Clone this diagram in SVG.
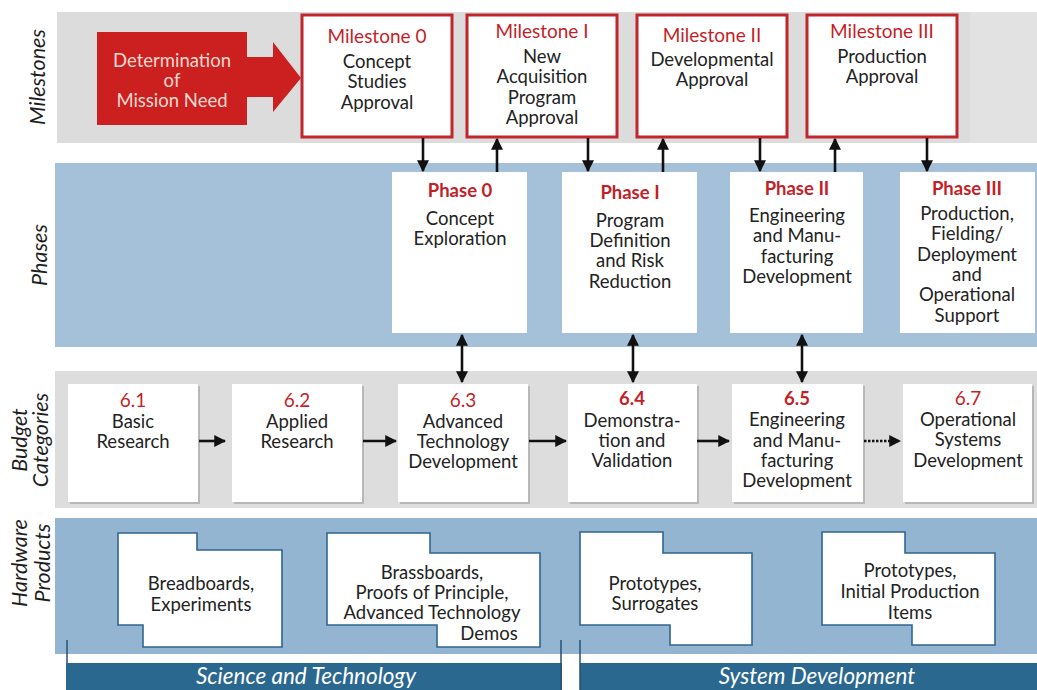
<svg xmlns="http://www.w3.org/2000/svg" width="1037" height="690" viewBox="0 0 1037 690">
<style>
text{font-family:Lato,"Open Sans","Liberation Sans",sans-serif;text-anchor:middle}
.t{font-size:18.5px;fill:#232323}
.w{font-size:18.5px;fill:#f7d9cf}
.r{font-size:19px;fill:#c41f28}
.pb{font-size:18.5px;fill:#c41f28;font-weight:bold}
.lbl{font-size:21.5px;font-style:italic;fill:#1e1e1e}
.bar{font-size:22.5px;font-style:italic;fill:#ffffff}
.mbox{fill:#ffffff;stroke:#c0262c;stroke-width:3}
.pbox{fill:#ffffff}
.bbox{fill:#ffffff}
.shadow{fill:#b8b8b8}
.hw{fill:#ffffff;stroke:#2f6690;stroke-width:1.6}
.ln{stroke:#111;stroke-width:2.6;fill:none}
.hd{fill:#111}
</style>
<defs>
<marker id="ah" viewBox="0 0 10 10" refX="9" refY="5" markerWidth="4.6" markerHeight="4.6" orient="auto-start-reverse" markerUnits="strokeWidth">
<path d="M0,0 L10,5 L0,10 Z" class="hd"/>
</marker>
</defs>
<rect width="1037" height="690" fill="#ffffff"/>
<!-- bands -->
<g id="bands">
<rect x="57" y="12" width="980" height="131" fill="#dcdcdc"/>
<rect x="970" y="12" width="67" height="131" fill="#e2e2e2"/>
<rect x="55" y="163" width="982" height="184" fill="#a5c1da"/>
<rect x="55" y="371" width="982" height="137" fill="#dddddd"/>
<rect x="55" y="518" width="982" height="136" fill="#93b5d2"/>
</g>
<!-- row labels -->
<g id="row-labels">
<text class="lbl" transform="translate(45,77) rotate(-90)">Milestones</text>
<text class="lbl" transform="translate(47,255) rotate(-90)">Phases</text>
<text class="lbl" transform="translate(27,440) rotate(-90)">Budget</text>
<text class="lbl" transform="translate(48,440) rotate(-90)">Categories</text>
<text class="lbl" transform="translate(27,563) rotate(-90)">Hardware</text>
<text class="lbl" transform="translate(50,563) rotate(-90)">Products</text>
</g>
<!-- mission need arrow -->
<g id="mission-need">
<path d="M97,32 H247 V57 H273 V42 L301,78 L273,112 V97 H247 V125 H97 Z" fill="#cc1f1f"/>
<text class="w" x="172" y="67">Determination</text>
<text class="w" x="172" y="87">of</text>
<text class="w" x="172" y="107">Mission Need</text>
</g>
<!-- milestones -->
<g id="milestone-0">
<rect class="mbox" x="302" y="15" width="150" height="122"/>
<text class="r" x="377" y="43">Milestone 0</text>
<text class="t" x="377" y="68">Concept</text>
<text class="t" x="377" y="88">Studies</text>
<text class="t" x="377" y="109">Approval</text>
</g>
<g id="milestone-1">
<rect class="mbox" x="467" y="15" width="150" height="122"/>
<text class="r" x="542" y="38">Milestone I</text>
<text class="t" x="542" y="63">New</text>
<text class="t" x="542" y="83">Acquisition</text>
<text class="t" x="542" y="104">Program</text>
<text class="t" x="542" y="124">Approval</text>
</g>
<g id="milestone-2">
<rect class="mbox" x="637" y="15" width="150" height="122"/>
<text class="r" x="712" y="42">Milestone II</text>
<text class="t" x="712" y="66">Developmental</text>
<text class="t" x="712" y="86">Approval</text>
</g>
<g id="milestone-3">
<rect class="mbox" x="807" y="15" width="150" height="122"/>
<text class="r" x="882" y="38">Milestone III</text>
<text class="t" x="882" y="63">Production</text>
<text class="t" x="882" y="83">Approval</text>
</g>
<!-- phases -->
<g id="phase-0">
<rect class="pbox" x="392" y="172" width="135" height="161"/>
<text class="pb" x="460" y="197">Phase 0</text>
<text class="t" x="460" y="225">Concept</text>
<text class="t" x="460" y="245">Exploration</text>
</g>
<g id="phase-1">
<rect class="pbox" x="562" y="172" width="135" height="161"/>
<text class="pb" x="630" y="199">Phase I</text>
<text class="t" x="630" y="227">Program</text>
<text class="t" x="630" y="247">Definition</text>
<text class="t" x="630" y="267">and Risk</text>
<text class="t" x="630" y="288">Reduction</text>
</g>
<g id="phase-2">
<rect class="pbox" x="730" y="172" width="133" height="161"/>
<text class="pb" x="797" y="195">Phase II</text>
<text class="t" x="797" y="222">Engineering</text>
<text class="t" x="797" y="242">and Manu-</text>
<text class="t" x="797" y="263">facturing</text>
<text class="t" x="797" y="283">Development</text>
</g>
<g id="phase-3">
<rect class="pbox" x="900" y="172" width="135" height="161"/>
<text class="pb" x="967" y="195">Phase III</text>
<text class="t" x="967" y="220">Production,</text>
<text class="t" x="967" y="240">Fielding/</text>
<text class="t" x="967" y="261">Deployment</text>
<text class="t" x="967" y="281">and</text>
<text class="t" x="967" y="301">Operational</text>
<text class="t" x="967" y="322">Support</text>
</g>
<!-- budget categories -->
<g id="budget-6-1">
<rect class="shadow" x="70" y="386" width="130" height="118"/>
<rect class="bbox" x="68" y="384" width="130" height="118"/>
<text class="r" x="133" y="407">6.1</text>
<text class="t" x="133" y="428">Basic</text>
<text class="t" x="133" y="448">Research</text>
</g>
<g id="budget-6-2">
<rect class="shadow" x="234" y="386" width="130" height="118"/>
<rect class="bbox" x="232" y="384" width="130" height="118"/>
<text class="r" x="297" y="407">6.2</text>
<text class="t" x="297" y="428">Applied</text>
<text class="t" x="297" y="448">Research</text>
</g>
<g id="budget-6-3">
<rect class="shadow" x="400" y="386" width="130" height="118"/>
<rect class="bbox" x="398" y="384" width="130" height="118"/>
<text class="r" x="463" y="407">6.3</text>
<text class="t" x="463" y="428">Advanced</text>
<text class="t" x="463" y="448">Technology</text>
<text class="t" x="463" y="468">Development</text>
</g>
<g id="budget-6-4">
<rect class="shadow" x="570" y="386" width="129" height="118"/>
<rect class="bbox" x="568" y="384" width="129" height="118"/>
<text class="pb" x="632" y="405">6.4</text>
<text class="t" x="632" y="427">Demonstra-</text>
<text class="t" x="632" y="447">tion and</text>
<text class="t" x="632" y="467">Validation</text>
</g>
<g id="budget-6-5">
<rect class="shadow" x="734" y="386" width="131" height="118"/>
<rect class="bbox" x="732" y="384" width="131" height="118"/>
<text class="pb" x="797" y="405">6.5</text>
<text class="t" x="797" y="426">Engineering</text>
<text class="t" x="797" y="447">and Manu-</text>
<text class="t" x="797" y="467">facturing</text>
<text class="t" x="797" y="487">Development</text>
</g>
<g id="budget-6-7">
<rect class="shadow" x="905" y="386" width="129" height="118"/>
<rect class="bbox" x="903" y="384" width="129" height="118"/>
<text class="r" x="968" y="405">6.7</text>
<text class="t" x="968" y="426">Operational</text>
<text class="t" x="968" y="446">Systems</text>
<text class="t" x="968" y="467">Development</text>
</g>
<!-- hardware products -->
<g id="hw-breadboards">
<path class="hw" d="M118,533 H197 V550 H282 V647 H143 V625 H118 Z"/>
<text class="t" x="201" y="590">Breadboards,</text>
<text class="t" x="201" y="611">Experiments</text>
</g>
<g id="hw-brassboards">
<path class="hw" d="M327,533 H430 V553 H540 V647 H437 V625 H327 Z"/>
<text class="t" x="432" y="579">Brassboards,</text>
<text class="t" x="432" y="599">Proofs of Principle,</text>
<text class="t" x="432" y="619">Advanced Technology</text>
<text class="t" x="489" y="640">Demos</text>
</g>
<g id="hw-prototypes-surrogates">
<path class="hw" d="M580,532 H663 V553 H752 V645 H670 V625 H580 Z"/>
<text class="t" x="655" y="590">Prototypes,</text>
<text class="t" x="655" y="610">Surrogates</text>
</g>
<g id="hw-prototypes-initial">
<path class="hw" d="M822,532 H905 V553 H995 V645 H912 V625 H822 Z"/>
<text class="t" x="910" y="577">Prototypes,</text>
<text class="t" x="910" y="598">Initial Production</text>
<text class="t" x="910" y="619">Items</text>
</g>
<!-- bottom bars -->
<g id="science-technology">
<rect x="66" y="663" width="496" height="27" fill="#2a6890"/>
<line x1="67" y1="640" x2="67" y2="663" stroke="#2a4f6e" stroke-width="1.5"/>
<line x1="561" y1="640" x2="561" y2="690" stroke="#2a4f6e" stroke-width="1.5"/>
<text class="bar" x="306" y="684">Science and Technology</text>
</g>
<g id="system-development">
<rect x="580" y="663" width="457" height="27" fill="#2a6890"/>
<line x1="580" y1="640" x2="580" y2="690" stroke="#2a4f6e" stroke-width="1.5"/>
<text class="bar" x="817" y="684">System Development</text>
</g>
<!-- connectors -->
<g id="connectors">
<line class="ln" x1="423" y1="138" x2="423" y2="171" marker-end="url(#ah)"/>
<line class="ln" x1="497" y1="172" x2="497" y2="139" marker-end="url(#ah)"/>
<line class="ln" x1="588" y1="138" x2="588" y2="171" marker-end="url(#ah)"/>
<line class="ln" x1="663" y1="172" x2="663" y2="139" marker-end="url(#ah)"/>
<line class="ln" x1="760" y1="138" x2="760" y2="171" marker-end="url(#ah)"/>
<line class="ln" x1="835" y1="172" x2="835" y2="139" marker-end="url(#ah)"/>
<line class="ln" x1="927" y1="138" x2="927" y2="171" marker-end="url(#ah)"/>
<line class="ln" x1="462" y1="335" x2="462" y2="382" marker-start="url(#ah)" marker-end="url(#ah)"/>
<line class="ln" x1="633" y1="335" x2="633" y2="382" marker-start="url(#ah)" marker-end="url(#ah)"/>
<line class="ln" x1="802" y1="335" x2="802" y2="382" marker-start="url(#ah)" marker-end="url(#ah)"/>
<line class="ln" x1="199" y1="441" x2="225" y2="441" marker-end="url(#ah)"/>
<line class="ln" x1="363" y1="441" x2="396" y2="441" marker-end="url(#ah)"/>
<line class="ln" x1="529" y1="441" x2="566" y2="441" marker-end="url(#ah)"/>
<line class="ln" x1="697" y1="441" x2="729" y2="441" marker-end="url(#ah)"/>
<line class="ln" x1="864" y1="441" x2="900" y2="441" stroke-dasharray="2.5 1.5" marker-end="url(#ah)"/>
</g>
</svg>
